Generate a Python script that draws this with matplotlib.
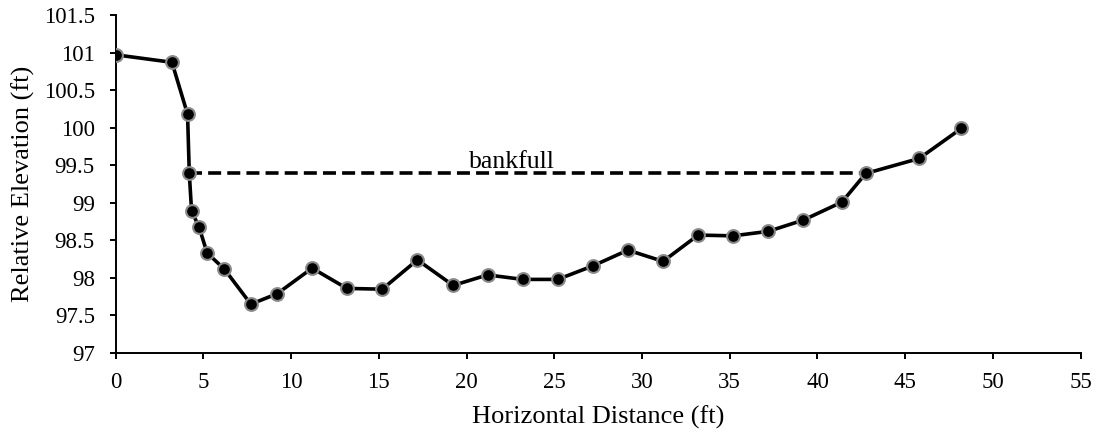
import matplotlib
matplotlib.use("Agg")
import matplotlib.pyplot as plt

distance = [0, 3.21, 4.1, 4.2, 4.33, 4.75, 5.22, 6.19, 7.71, 9.21, 11.2, 13.18,
            15.2, 17.2, 19.24, 21.2, 23.2, 25.2, 27.2, 29.2, 31.2, 33.2, 35.2,
            37.2, 39.2, 41.4, 42.75, 45.8, 48.2]
elevation = [100.97, 100.87, 100.18, 99.39, 98.89, 98.68, 98.33, 98.12, 97.65,
             97.79, 98.13, 97.86, 97.85, 98.24, 97.90, 98.04, 97.98, 97.98,
             98.16, 98.37, 98.22, 98.57, 98.56, 98.62, 98.77, 99.01, 99.39,
             99.59, 99.99]
bankfull_x = [4.2, 42.75]
bankfull_y = [99.39, 99.39]
bankfull_label = "bankfull"

plt.rcParams['font.family'] = ['Liberation Serif', 'DejaVu Serif']

fig = plt.figure(figsize=(11.01, 4.38), dpi=100)
ax = fig.add_axes([0.105, 0.194, 0.8765, 0.7718])

ax.plot(bankfull_x, bankfull_y, color='black', lw=2.6, dashes=(3.6, 1.7), zorder=2)
ax.plot(distance, elevation, color='black', lw=2.6, marker='o', markersize=9.2,
        markerfacecolor='black', markeredgecolor='#8a8a8a', markeredgewidth=1.5,
        zorder=3)
ax.text(22.56, 99.46, bankfull_label, ha='center', va='baseline', fontsize=18.5)

ax.set_xlim(0, 55)
ax.set_ylim(97, 101.5)
ax.set_xticks(range(0, 56, 5))
yt = [97 + 0.5 * i for i in range(10)]
ax.set_yticks(yt)
ax.set_yticklabels([f"{v:g}" for v in yt])

for s in ['top', 'right']:
    ax.spines[s].set_visible(False)
for s in ['left', 'bottom']:
    ax.spines[s].set_linewidth(1.4)
ax.tick_params(axis='both', direction='out', length=4.5, width=1.4, labelsize=16.5)
ax.tick_params(axis='x', pad=9)
ax.tick_params(axis='y', pad=10.5)

ax.set_xlabel("Horizontal Distance (ft)", fontsize=19, labelpad=9)
ax.set_ylabel("Relative Elevation (ft)", fontsize=19, labelpad=6)

fig.savefig("out.png", dpi=100)
